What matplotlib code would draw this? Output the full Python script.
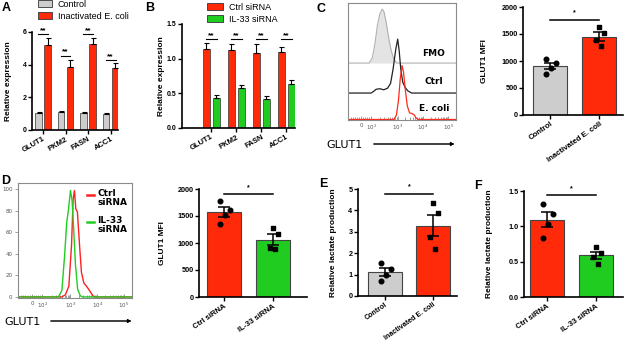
import numpy as np
import matplotlib.pyplot as plt
from matplotlib.patches import Patch

plt.rcParams['font.family'] = ['Liberation Sans', 'DejaVu Sans']

W, H = 625, 341
RED = '#ff2a0a'
GREEN = '#1fcc1f'
GREY = '#cdcdcd'

# ---- data ----
genes = ['GLUT1', 'PKM2', 'FASN', 'ACC1']
a_control = [1.05, 1.10, 1.05, 1.00]
a_control_err = [0.06, 0.06, 0.05, 0.05]
a_ecoli = [5.18, 3.85, 5.25, 3.80]
a_ecoli_err = [0.48, 0.45, 0.40, 0.30]
a_sig = [5.85, 4.55, 5.85, 4.30]

b_ctrl = [1.14, 1.13, 1.08, 1.10]
b_ctrl_err = [0.08, 0.08, 0.13, 0.07]
b_il33 = [0.43, 0.58, 0.42, 0.64]
b_il33_err = [0.05, 0.04, 0.04, 0.05]
b_sig = [1.28, 1.28, 1.28, 1.28]

ecoli_groups = ['Control', 'Inactivated E. coli']
sirna_groups = ['Ctrl siRNA', 'IL-33 siRNA']

c_mfi_control = [1030, 960, 870, 760]
c_mfi_ecoli = [1630, 1520, 1380, 1280]
d_mfi_ctrl = [1785, 1620, 1520, 1360]
d_mfi_il33 = [1280, 1175, 915, 880]
e_lac_control = [1.53, 1.27, 0.98, 0.70]
e_lac_ecoli = [4.34, 3.88, 2.75, 2.19]
f_lac_ctrl = [1.32, 1.18, 1.04, 0.83]
f_lac_il33 = [0.71, 0.62, 0.56, 0.46]

# flow histograms: position in decades (biexponential display), % of max
fmo_pos = [1.88, 2.00, 2.10, 2.20, 2.30, 2.39, 2.46, 2.55, 2.65, 2.75, 2.85, 2.97]
fmo_h = [0, 10, 35, 70, 92, 100, 95, 75, 45, 22, 7, 0]
ctrl_pos = [1.95, 2.05, 2.15, 2.30, 2.45, 2.60, 2.72, 2.82, 2.92, 3.00, 3.06, 3.12, 3.20, 3.30, 3.40, 3.55]
ctrl_h = [0, 3, 7, 8, 6, 9, 18, 45, 80, 100, 78, 45, 20, 10, 4, 0]
ecoli_pos = [2.85, 2.95, 3.03, 3.10, 3.17, 3.23, 3.30, 3.38, 3.47, 3.57, 3.66, 3.72, 3.80]
ecoli_h = [0, 8, 35, 75, 100, 88, 55, 25, 12, 11, 8, 3, 0]

dctrl_pos = [2.68, 2.81, 2.94, 3.04, 3.10, 3.15, 3.20, 3.26, 3.34, 3.41, 3.50, 3.60, 3.71, 3.84, 3.92]
dctrl_h = [0, 2, 10, 48, 91, 99, 82, 79, 48, 23, 13, 10, 6, 1, 0]
dil33_pos = [2.55, 2.68, 2.78, 2.86, 2.93, 3.00, 3.06, 3.12, 3.19, 3.27, 3.37, 3.45]
dil33_h = [0, 6, 38, 69, 82, 99, 90, 63, 29, 7, 1, 0]

flow_ticks = [1.56, 1.95, 3, 4, 5]
flow_ticklabels = ['0', '$10^2$', '$10^3$', '$10^4$', '$10^5$']
XMIN, XMAX = 1.04, 5.30

fig = plt.figure(figsize=(6.25, 3.41), dpi=100)


def px_axes(x0, y0, x1, y1):
    return fig.add_axes([x0 / W, 1 - y1 / H, (x1 - x0) / W, (y1 - y0) / H])


def style_bar_axes(ax, ysize=5.2):
    for s in ['top', 'right']:
        ax.spines[s].set_visible(False)
    for s in ['left', 'bottom']:
        ax.spines[s].set_linewidth(1.2)
    ax.tick_params(length=3, width=1, pad=1)
    ax.tick_params(axis='y', labelsize=ysize)
    for t in ax.get_yticklabels():
        t.set_fontweight('bold')


def label_px(ax, xpx, box):
    x0, x1 = box[0], box[2]
    ax.yaxis.set_label_coords((xpx - x0) / (x1 - x0), 0.5)


def grouped(ax, box, v1, e1, v2, e2, c1, c2, sig, ylim, yticks, yfmt, xlim, ylabel_x):
    x = np.arange(len(genes))
    ax.bar(x - 0.2, v1, 0.28, color=c1, edgecolor='#333333', lw=0.5)
    ax.bar(x + 0.2, v2, 0.28, color=c2, edgecolor='#333333', lw=0.5)
    ax.errorbar(x - 0.2, v1, yerr=[np.zeros(len(v1)), e1], fmt='none', ecolor='black', elinewidth=0.8, capsize=1.8, capthick=0.8)
    ax.errorbar(x + 0.2, v2, yerr=[np.zeros(len(v2)), e2], fmt='none', ecolor='black', elinewidth=0.8, capsize=1.8, capthick=0.8)
    for i, s in enumerate(sig):
        ax.plot([i - 0.22, i + 0.22], [s, s], color='black', lw=0.8)
        ax.text(i, s, '**', ha='center', va='bottom', fontsize=6, fontweight='bold')
    ax.set_xlim(*xlim)
    ax.set_ylim(*ylim)
    ax.set_yticks(yticks)
    ax.set_yticklabels([yfmt.format(v) for v in yticks])
    ax.set_xticks(x)
    ax.set_xticklabels(genes, rotation=30, ha='right', rotation_mode='anchor', fontsize=5.5, fontweight='bold')
    ax.set_ylabel('Relative expression', fontsize=6, fontweight='bold')
    label_px(ax, ylabel_x, box)
    style_bar_axes(ax, 5.0)


def dots(ax, box, groups, p1, p2, c1, c2, ylim, yticks, yfmt, xlim, ylabel, ylabel_x, sig, xsize=5.6):
    jit = [[-0.08, 0.13, 0.02, -0.08], [0.0, 0.1, -0.06, 0.04]]
    for i, (pts, col, mk) in enumerate([(p1, c1, 'o'), (p2, c2, 's')]):
        m = np.mean(pts)
        se = np.std(pts, ddof=1) / np.sqrt(len(pts))
        ax.bar(i, m, 0.7, color=col, edgecolor='#444444', lw=0.8, zorder=1)
        ax.errorbar(i, m, yerr=se, fmt='none', ecolor='black', elinewidth=1.1, capsize=4.5, capthick=1.1, zorder=3)
        ax.scatter(np.array(jit[i]) + i, pts, marker=mk, s=11, color='black', zorder=4)
    ax.plot([0, 1], [sig, sig], color='black', lw=1.1)
    ax.text(0.5, sig + (ylim[1] - ylim[0]) * 0.03, '*', ha='center', va='bottom', fontsize=5, fontweight='bold')
    ax.set_xlim(*xlim)
    ax.set_ylim(*ylim)
    ax.set_yticks(yticks)
    ax.set_yticklabels([yfmt.format(v) for v in yticks])
    ax.set_xticks([0, 1])
    ax.set_xticklabels(groups, rotation=35, ha='right', rotation_mode='anchor', fontsize=xsize, fontweight='bold')
    ax.set_ylabel(ylabel, fontsize=6, fontweight='bold')
    label_px(ax, ylabel_x, box)
    style_bar_axes(ax)


def flow_axes(ax):
    ax.set_xlim(XMIN, XMAX)
    for s in ax.spines.values():
        s.set_color('#8a8a8a')
        s.set_linewidth(0.8)
    ax.set_xticks(flow_ticks)
    ax.set_xticklabels(flow_ticklabels, fontsize=4, color='#555555', family='DejaVu Sans')
    minor = [1.56 + k * 0.08 for k in range(-5, 5)] + [d + np.log10(k) for d in [2, 3, 4] for k in range(2, 10)]
    ax.set_xticks(minor, minor=True)
    ax.tick_params(axis='x', which='both', direction='in', length=2, width=0.5, color='#777777', pad=2)
    ax.tick_params(axis='x', which='major', length=3)


def ext(pos, h, base=0.0):
    xs = np.concatenate(([XMIN], pos, [XMAX]))
    ys = np.concatenate(([0], h, [0])) + base
    return xs, ys


# ---- A ----
boxA = (32, 32, 118, 130)
axA = px_axes(*boxA)
grouped(axA, boxA, a_control, a_control_err, a_ecoli, a_ecoli_err, GREY, RED, a_sig,
        (0, 6), [0, 2, 4, 6], '{:g}', (-0.49, 3.33), 12)
fig.legend([Patch(facecolor=GREY, edgecolor='#333333', lw=0.6), Patch(facecolor=RED, edgecolor='#333333', lw=0.6)],
           ['Control', 'Inactivated E. coli'], loc='upper left', bbox_to_anchor=(37 / W, 1 + 1 / H),
           frameon=False, fontsize=6.5, handlelength=1.6, handleheight=0.8, labelspacing=0.35, handletextpad=0.6,
           borderaxespad=0, borderpad=0.1)

# ---- B ----
boxB = (182, 24, 295, 128)
axB = px_axes(*boxB)
grouped(axB, boxB, b_ctrl, b_ctrl_err, b_il33, b_il33_err, RED, GREEN, b_sig,
        (0, 1.5), [0, 0.5, 1.0, 1.5], '{:.1f}', (-1.16, 3.34), 165)
fig.legend([Patch(facecolor=RED, edgecolor='#333333', lw=0.6), Patch(facecolor=GREEN, edgecolor='#333333', lw=0.6)],
           ['Ctrl siRNA', 'IL-33 siRNA'], loc='upper left', bbox_to_anchor=(206 / W, 1 - 2 / H),
           frameon=False, fontsize=6.5, handlelength=1.8, handleheight=0.8, labelspacing=0.35, handletextpad=0.6,
           borderaxespad=0, borderpad=0.1)

# ---- C flow ----
axC = px_axes(348, 3, 456, 120)
flow_axes(axC)
axC.set_ylim(-1, 216)
axC.set_yticks([])
xs, ys = ext(fmo_pos, fmo_h, 104.6)
axC.fill_between(xs, 104.6, ys, color='#e4e4e4', lw=0)
axC.plot(xs, ys, color='#b0b0b0', lw=0.8)
xs, ys = ext(ctrl_pos, ctrl_h, 49)
axC.plot(xs, ys, color='#222222', lw=0.9)
xs, ys = ext(ecoli_pos, ecoli_h, 0)
axC.plot(xs, ys, color='#ff2a1a', lw=0.9)
for lbl, ypx in [('FMO', 53), ('Ctrl', 82), ('E. coli', 109)]:
    fig.text(434 / W, 1 - ypx / H, lbl, ha='center', va='center', fontsize=6.5, fontweight='bold', family='DejaVu Sans')

fig.text(326 / W, 1 - 145 / H, 'GLUT1', ha='left', va='center', fontsize=8, family='DejaVu Sans')
fig.add_artist(plt.annotate('', xy=(457 / W, 1 - 144 / H), xytext=(371 / W, 1 - 144 / H), xycoords='figure fraction',
                            arrowprops=dict(arrowstyle='-|>', lw=0.7, color='black', mutation_scale=5)))

# ---- C bar ----
boxCb = (523, 7, 623, 115)
axCb = px_axes(*boxCb)
dots(axCb, boxCb, ecoli_groups, c_mfi_control, c_mfi_ecoli, GREY, RED, (0, 2000), [0, 500, 1000, 1500, 2000],
     '{:g}', (-0.55, 1.49), 'GLUT1 MFI', 488, 1760)

# ---- D flow ----
boxDf = (18, 183, 132, 298)
axD = px_axes(*boxDf)
flow_axes(axD)
axD.set_ylim(-1, 106)
axD.set_yticks([0, 20, 40, 60, 80, 100])
axD.set_yticklabels(['0', '20', '40', '60', '80', '100'], fontsize=4, color='#555555', family='DejaVu Sans')
axD.tick_params(axis='y', length=2, width=0.5, color='#777777', pad=2)
xs, ys = ext(dctrl_pos, dctrl_h)
axD.plot(xs, ys, color='#ff2020', lw=1.0)
xs, ys = ext(dil33_pos, dil33_h)
axD.plot(xs, ys, color='#22cc22', lw=1.0)
axD.plot([0.606, 0.667], [0.895, 0.895], transform=axD.transAxes, color='#ff2020', lw=1.8)
axD.plot([0.606, 0.667], [0.66, 0.66], transform=axD.transAxes, color='#22cc22', lw=1.8)
axD.text(0.695, 0.95, 'Ctrl\nsiRNA', transform=axD.transAxes, va='top', ha='left', fontsize=6.5,
         fontweight='bold', linespacing=1.05, family='DejaVu Sans')
axD.text(0.695, 0.715, 'IL-33\nsiRNA', transform=axD.transAxes, va='top', ha='left', fontsize=6.5,
         fontweight='bold', linespacing=1.05, family='DejaVu Sans')
fig.text(4 / W, 1 - 322 / H, 'GLUT1', ha='left', va='center', fontsize=8, family='DejaVu Sans')
fig.add_artist(plt.annotate('', xy=(134 / W, 1 - 321 / H), xytext=(48 / W, 1 - 321 / H), xycoords='figure fraction',
                            arrowprops=dict(arrowstyle='-|>', lw=0.7, color='black', mutation_scale=5)))

# ---- D bar ----
boxDb = (199, 189, 307, 297)
axDb = px_axes(*boxDb)
dots(axDb, boxDb, sirna_groups, d_mfi_ctrl, d_mfi_il33, RED, GREEN, (0, 2000), [0, 500, 1000, 1500, 2000],
     '{:g}', (-0.51, 1.69), 'GLUT1 MFI', 166, 1900)

# ---- E ----
boxE = (358, 189, 457, 296)
axE = px_axes(*boxE)
dots(axE, boxE, ecoli_groups, e_lac_control, e_lac_ecoli, GREY, RED, (0, 5), [0, 1, 2, 3, 4, 5],
     '{:g}', (-0.56, 1.5), 'Relative lactate production', 337, 4.77, xsize=5.1)

# ---- F ----
boxF = (524, 191, 623, 297)
axF = px_axes(*boxF)
dots(axF, boxF, sirna_groups, f_lac_ctrl, f_lac_il33, RED, GREEN, (0, 1.5), [0, 0.5, 1.0, 1.5],
     '{:.1f}', (-0.47, 1.55), 'Relative lactate production', 493, 1.44)

for lbl, x, y in [('A', 2, 2), ('B', 145, 2), ('C', 316, 3), ('D', 1, 175), ('E', 319, 178), ('F', 474, 180)]:
    fig.text(x / W, 1 - y / H, lbl, ha='left', va='top', fontsize=9, fontweight='bold')

fig.savefig('out.png', dpi=100)
